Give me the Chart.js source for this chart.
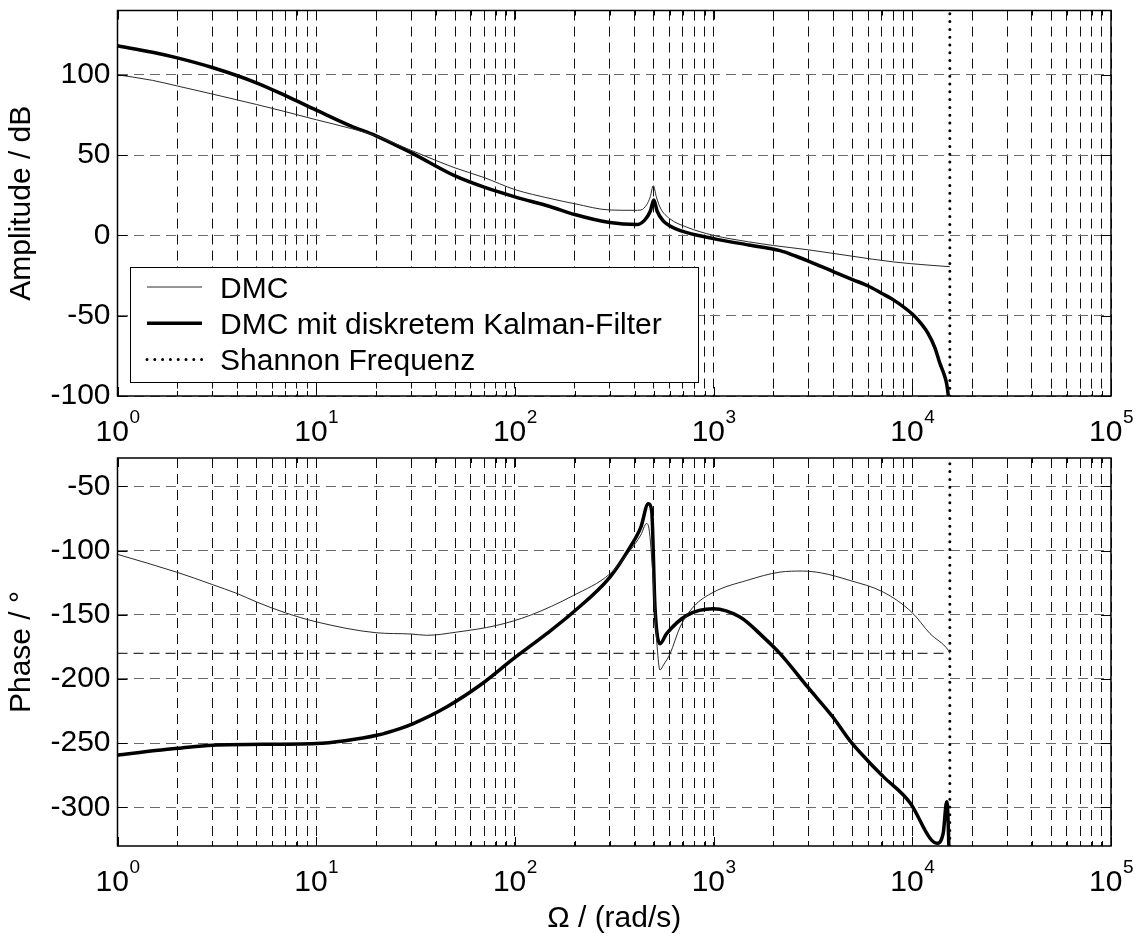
<!DOCTYPE html>
<html>
<head>
<meta charset="utf-8">
<script src="https://cdn.jsdelivr.net/npm/chart.js@4.4.1/dist/chart.umd.min.js"></script>
<style>
  html, body { margin: 0; padding: 0; background: #fff; }
  #wrap { position: relative; width: 1137px; height: 937px; }
  canvas { position: absolute; left: 0; }
</style>
</head>
<body>
<div id="wrap">
  <canvas id="ampChart" width="1137" height="452" style="top:0"></canvas>
  <canvas id="phaseChart" width="1137" height="485" style="top:452px"></canvas>
</div>
<script>
const FONT = 'Arial, "Liberation Sans", Helvetica, sans-serif';

// frequency axis (rad/s)
const freqTicks = [1, 2, 3, 4, 5, 6, 7, 8, 9,
  10, 20, 30, 40, 50, 60, 70, 80, 90,
  100, 200, 300, 400, 500, 600, 700, 800, 900,
  1000, 2000, 3000, 4000, 5000, 6000, 7000, 8000, 9000,
  10000, 20000, 30000, 40000, 50000, 60000, 70000, 80000, 90000, 100000];
const decadeTicks = [1, 10, 100, 1000, 10000, 100000];
const decadeExponents = ['0', '1', '2', '3', '4', '5'];
const shannonOmega = 15450;

// amplitude plot
const ampRange = [-100, 140];
const ampTicks = [-100, -50, 0, 50, 100];
const ampOmegaDMC = [1, 1.5, 2, 3, 5, 7, 10, 15, 20, 30, 50, 70, 100, 150, 200, 300, 400, 430, 460, 480, 497, 515, 540, 600, 730, 1000, 1500, 2000, 3000, 5000, 8000, 12000, 15450];
const ampDMC = [100, 96.5, 93, 88, 81.5, 77, 72, 66.5, 62, 53, 42, 36, 28.5, 23, 19.7, 15.8, 15.6, 15.8, 19, 24, 31, 24, 17, 10.5, 5.2, 0, -4, -6.3, -9, -13, -16.5, -18.5, -19.5];
const ampOmegaKF = [1, 1.5, 2, 3, 5, 7, 10, 15, 20, 30, 50, 70, 100, 150, 200, 300, 410, 450, 480, 500, 520, 558, 600, 680, 1000, 1500, 2160, 2600, 3000, 3500, 4000, 5000, 6000, 7000, 8000, 10000, 11000, 12000, 13000, 13800, 14400, 14900, 15200, 15450];
const ampKF = [118, 114, 110.5, 104.5, 95, 87, 78, 68, 62, 51.5, 37, 30, 24, 18, 13, 8, 6.7, 9.5, 15, 22, 15, 9, 6, 3, -2, -6, -9.5, -13, -16, -19.5, -22.5, -27.5, -31.5, -36, -40, -49, -54.5, -61, -70, -80, -86, -92.5, -101, -115];

// phase plot
const phaseRange = [-330, -28];
const phaseTicks = [-300, -250, -200, -150, -100, -50];
const phaseRefLine = -180;
const phOmegaDMC = [1, 2, 3, 4, 5, 7, 10, 20, 30, 36, 51, 81, 119, 197, 301, 380, 430, 460, 475, 500, 520, 537, 560, 604, 678, 790, 1000, 1470, 2160, 2800, 3500, 4850, 7150, 9930, 12280, 15180, 15450];
const phDMC = [-103, -117, -126.5, -133.5, -140, -148.5, -155.5, -164, -165, -166, -163.5, -158.3, -150.5, -135, -118.1, -100, -88, -79, -85, -130, -175, -193, -189, -180.3, -159.6, -144, -132.4, -123.3, -116.8, -116, -117.5, -123.3, -132.4, -148, -164.7, -177.7, -180];
const phOmegaKF = [1, 1.6, 2, 3, 10, 14, 20.2, 26.4, 30.8, 45.3, 66.7, 98.4, 144.6, 197, 301, 380, 430, 469, 488, 507, 537, 580, 733, 997, 1358, 1780, 2160, 3000, 4000, 4850, 6000, 7150, 9800, 12280, 13270, 14300, 14900, 15100, 15450];
const phKF = [-259.3, -255.5, -254, -251.5, -250.2, -248, -243.8, -238.6, -234.7, -221.8, -204.9, -184.2, -164.7, -147.9, -120.7, -97.4, -82, -63.7, -69, -144, -172.5, -164.7, -150.5, -145.3, -151.8, -167.4, -180.3, -207, -230, -248, -264, -276, -296.9, -324, -327.9, -320.2, -295.6, -305, -360];

const toPoints = (xs, ys) => xs.map((x, i) => ({ x, y: ys[i] }));

const lineBase = { pointRadius: 0, tension: 0, fill: false, borderJoinStyle: 'round' };
const curve = { ...lineBase, cubicInterpolationMode: 'monotone' };
const thinStyle = { borderColor: '#2a2a2a', borderWidth: 1 };
const thickStyle = { borderColor: '#000', borderWidth: 3.5 };
const dotStyle = { borderColor: '#000', borderWidth: 3, borderDash: [0, 7.8], borderCapStyle: 'round' };

// inner ticks, frame box and 10^k labels
const framePlugin = {
  id: 'framePlugin',
  afterDraw(chart) {
    const { ctx, chartArea: a, scales: { x, y } } = chart;
    ctx.save();
    ctx.strokeStyle = '#000';
    ctx.lineWidth = 1;
    ctx.setLineDash([]);
    ctx.beginPath();
    x.ticks.forEach(t => {
      const px = Math.round(x.getPixelForValue(t.value)) + 0.5;
      const len = decadeTicks.includes(t.value) ? 9 : 5;
      ctx.moveTo(px, a.bottom); ctx.lineTo(px, a.bottom - len);
      ctx.moveTo(px, a.top); ctx.lineTo(px, a.top + len);
    });
    y.ticks.forEach(t => {
      const py = Math.round(y.getPixelForValue(t.value)) + 0.5;
      ctx.moveTo(a.left, py); ctx.lineTo(a.left + 10, py);
      ctx.moveTo(a.right, py); ctx.lineTo(a.right - 10, py);
    });
    ctx.stroke();
    ctx.lineWidth = 1.5;
    ctx.strokeRect(a.left, a.top, a.right - a.left, a.bottom - a.top);

    ctx.fillStyle = '#000';
    ctx.textBaseline = 'alphabetic';
    ctx.textAlign = 'left';
    decadeTicks.forEach((v, i) => {
      const px = x.getPixelForValue(v);
      ctx.font = '30px ' + FONT;
      const wBase = ctx.measureText('10').width;
      ctx.font = '19px ' + FONT;
      const wExp = ctx.measureText(decadeExponents[i]).width;
      const start = px - (wBase + wExp) / 2;
      const base = a.bottom + 45;
      ctx.font = '30px ' + FONT;
      ctx.fillText('10', start, base);
      ctx.font = '19px ' + FONT;
      ctx.fillText(decadeExponents[i], start + wBase + 0.5, base - 18);
    });
    ctx.restore();
  }
};

const legendPlugin = {
  id: 'legendPlugin',
  afterDatasetsDraw(chart) {
    const { ctx, chartArea: a } = chart;
    const bx = a.left + 12.5, by = a.top + 256.5, bw = 568, bh = 115;
    ctx.save();
    ctx.fillStyle = '#fff';
    ctx.fillRect(bx, by, bw, bh);
    ctx.strokeStyle = '#000';
    ctx.lineWidth = 1;
    ctx.strokeRect(bx + 0.5, by + 0.5, bw, bh);
    chart.data.datasets.filter(d => d.label).forEach((d, i) => {
      const ly = by + 20 + i * 36.3;
      ctx.beginPath();
      ctx.strokeStyle = d.borderColor;
      ctx.lineWidth = d.borderWidth;
      ctx.setLineDash(d.borderDash || []);
      ctx.lineCap = d.borderCapStyle || 'butt';
      ctx.moveTo(bx + 17, ly);
      ctx.lineTo(bx + 72, ly);
      ctx.stroke();
      ctx.setLineDash([]);
      ctx.fillStyle = '#000';
      ctx.font = '30px ' + FONT;
      ctx.textBaseline = 'alphabetic';
      ctx.fillText(d.label, bx + 90, ly + 10.5);
    });
    ctx.restore();
  }
};

function xAxis(height, title) {
  return {
    type: 'logarithmic',
    min: 1,
    max: 100000,
    afterBuildTicks: s => { s.ticks = freqTicks.map(v => ({ value: v })); },
    afterFit: s => { s.height = height; s.paddingLeft = 0; s.paddingRight = 0; },
    ticks: { display: false },
    grid: { color: '#111', lineWidth: 1, drawTicks: false },
    border: { display: false, dash: [10, 6] },
    title: title ? { display: true, text: title, color: '#000', font: { family: FONT, size: 30 }, padding: { top: 0, bottom: 0 } } : { display: false }
  };
}

function yAxis(range, ticks, title) {
  return {
    type: 'linear',
    min: range[0],
    max: range[1],
    afterBuildTicks: s => { s.ticks = ticks.map(v => ({ value: v })); },
    afterFit: s => { s.width = 117.5; s.paddingTop = 0; s.paddingBottom = 0; },
    ticks: { color: '#000', font: { family: FONT, size: 30 }, padding: 7, callback: v => String(v) },
    grid: { color: '#6a6a6a', lineWidth: 1, drawTicks: false },
    border: { display: false, dash: [10, 6] },
    title: { display: true, text: title, color: '#000', font: { family: FONT, size: 30 }, padding: { top: 4, bottom: 0 } }
  };
}

const commonOptions = (padTop, xHeight, xTitle, yRange, yTicks, yTitle) => ({
  responsive: false,
  animation: false,
  events: [],
  layout: { padding: { left: 0, right: 26, top: padTop, bottom: 0 } },
  plugins: { legend: { display: false }, tooltip: { enabled: false } },
  scales: {
    x: xAxis(xHeight, xTitle),
    y: yAxis(yRange, yTicks, yTitle)
  }
});

new Chart(document.getElementById('ampChart'), {
  type: 'line',
  data: {
    datasets: [
      { ...curve, ...thinStyle, label: 'DMC', data: toPoints(ampOmegaDMC, ampDMC) },
      { ...curve, ...thickStyle, label: 'DMC mit diskretem Kalman-Filter', data: toPoints(ampOmegaKF, ampKF) },
      { ...lineBase, ...dotStyle, label: 'Shannon Frequenz', data: toPoints([shannonOmega, shannonOmega], ampRange) }
    ]
  },
  options: commonOptions(10.5, 56, null, ampRange, ampTicks, 'Amplitude / dB'),
  plugins: [legendPlugin, framePlugin]
});

new Chart(document.getElementById('phaseChart'), {
  type: 'line',
  data: {
    datasets: [
      { ...curve, ...thinStyle, data: toPoints(phOmegaDMC, phDMC) },
      { ...curve, ...thickStyle, data: toPoints(phOmegaKF, phKF) },
      { ...lineBase, ...dotStyle, data: toPoints([shannonOmega, shannonOmega], phaseRange) },
      { ...lineBase, borderColor: '#000', borderWidth: 1, borderDash: [10, 6], data: toPoints([1, shannonOmega], [phaseRefLine, phaseRefLine]) }
    ]
  },
  options: commonOptions(6, 91, 'Ω / (rad/s)', phaseRange, phaseTicks, 'Phase / °'),
  plugins: [framePlugin]
});
</script>
</body>
</html>
